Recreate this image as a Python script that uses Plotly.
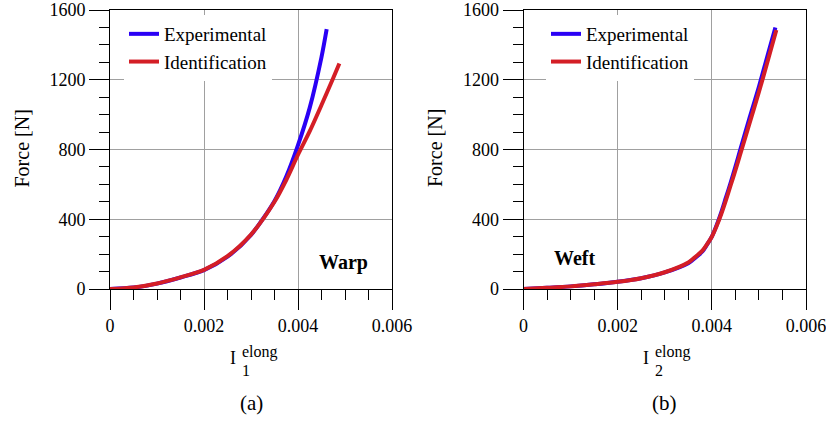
import plotly.graph_objects as go

# ---- data ----
warp_exp_x = [0, 0.0005, 0.001, 0.0015, 0.002, 0.0025, 0.003, 0.0035, 0.00375, 0.004, 0.00425, 0.0045, 0.00461]
warp_exp_f = [0, 8, 31, 66, 108, 185, 310, 505, 645, 825, 1040, 1330, 1490]
warp_id_x = [0, 0.0005, 0.001, 0.0015, 0.002, 0.0025, 0.003, 0.0035, 0.00375, 0.004, 0.00425, 0.0045, 0.00475, 0.00488]
warp_id_f = [0, 9, 32, 67, 110, 188, 312, 500, 625, 770, 905, 1055, 1210, 1293]

weft_exp_x = [0, 0.0005, 0.001, 0.0015, 0.002, 0.0025, 0.003, 0.0035, 0.0036, 0.0038, 0.0039, 0.004, 0.0041, 0.0042, 0.0043, 0.0044, 0.0045, 0.0046, 0.0048, 0.005, 0.0052, 0.00535]
weft_exp_f = [0, 7, 15, 27, 42, 62, 95, 148, 168, 215, 255, 300, 365, 440, 525, 610, 700, 795, 980, 1160, 1355, 1500]
weft_id_x = [0, 0.0005, 0.001, 0.0015, 0.002, 0.0025, 0.003, 0.0035, 0.0036, 0.0038, 0.0039, 0.004, 0.0041, 0.0042, 0.0043, 0.0044, 0.0045, 0.0046, 0.0048, 0.005, 0.0052, 0.00537]
weft_id_f = [0, 7, 15, 27, 41, 62, 96, 152, 173, 220, 257, 300, 360, 430, 510, 595, 680, 770, 950, 1130, 1320, 1485]

x_tickvals = [0, 0.002, 0.004, 0.006]
x_ticktext = ["0", "0.002", "0.004", "0.006"]
y_tickvals = [0, 400, 800, 1200, 1600]
series_names = ["Experimental", "Identification"]
panel_labels = ["(a)", "(b)"]
panel_tags = ["Warp", "Weft"]
subscripts = ["1", "2"]

BLUE = "#2a00f5"
RED = "#d41e26"
FONT = "Liberation Serif, Times New Roman, Times, serif"
W, H = 826, 423

def px(xp):
    return xp / W

def py(yp):
    return 1 - yp / H

fig = go.Figure()
fig.add_trace(go.Scatter(x=warp_exp_x, y=warp_exp_f, mode="lines", name=series_names[0],
                         line=dict(color=BLUE, width=4, shape="spline", smoothing=0.8), xaxis="x", yaxis="y", legend="legend"))
fig.add_trace(go.Scatter(x=warp_id_x, y=warp_id_f, mode="lines", name=series_names[1],
                         line=dict(color=RED, width=4, shape="spline", smoothing=0.8), xaxis="x", yaxis="y", legend="legend"))
fig.add_trace(go.Scatter(x=weft_exp_x, y=weft_exp_f, mode="lines", name=series_names[0],
                         line=dict(color=BLUE, width=4, shape="spline", smoothing=0.8), xaxis="x2", yaxis="y2", legend="legend2"))
fig.add_trace(go.Scatter(x=weft_id_x, y=weft_id_f, mode="lines", name=series_names[1],
                         line=dict(color=RED, width=4, shape="spline", smoothing=0.8), xaxis="x2", yaxis="y2", legend="legend2"))

def xaxis_cfg(dom, anchor):
    return dict(domain=dom, anchor=anchor, range=[0, 0.006], tickvals=x_tickvals, ticktext=x_ticktext,
                automargin=False, ticklabeloverflow="allow",
                showgrid=True, gridcolor="#a0a0a0", gridwidth=1, zeroline=False,
                showline=True, linecolor="black", linewidth=1, mirror=True,
                ticks="outside", ticklen=20, tickcolor="black", tickwidth=1,
                minor=dict(dtick=0.0005, ticks="outside", ticklen=10, tickcolor="black", showgrid=False),
                tickfont=dict(family=FONT, size=18, color="black"))

def yaxis_cfg(anchor):
    return dict(domain=[py(289), py(10)], anchor=anchor, range=[0, 1600], tickvals=y_tickvals,
                automargin=False, ticklabeloverflow="allow",
                showgrid=True, gridcolor="#a0a0a0", gridwidth=1, zeroline=False,
                showline=True, linecolor="black", linewidth=1, mirror=True,
                ticks="outside", ticklen=20, tickcolor="black", tickwidth=1,
                minor=dict(dtick=100, ticks="outside", ticklen=10, tickcolor="black", showgrid=False),
                tickfont=dict(family=FONT, size=18, color="black"))

def ann(text, xp, yp, size, xanchor="center", angle=0):
    return dict(text=text, x=px(xp), y=py(yp), xref="paper", yref="paper", xanchor=xanchor, yanchor="middle",
                textangle=angle, showarrow=False, font=dict(family=FONT, size=size, color="black"))

annotations = []
axis_left = [110, 523.5]
axis_right = [392, 806]
i_pos = [237.5, 650.5]
for i in range(2):
    cx = (axis_left[i] + axis_right[i]) / 2
    annotations.append(ann(panel_labels[i], cx, 403, 21))
    annotations.append(ann("Force [N]", axis_left[i] - 89, 148.5, 20, angle=-90))
    ix = i_pos[i]
    annotations.append(ann("I", ix, 357.5, 18, xanchor="right"))
    annotations.append(ann("elong", ix + 2, 352, 16, xanchor="left"))
    annotations.append(ann(subscripts[i], ix + 2.5, 370.5, 16, xanchor="left"))

annotations.append(ann("<b>" + panel_tags[0] + "</b>", 343, 262, 20))
annotations.append(ann("<b>" + panel_tags[1] + "</b>", 574.5, 258, 20))

legend_common = dict(bgcolor="white", borderwidth=0, xanchor="left", yanchor="top",
                     font=dict(family=FONT, size=19, color="black"), tracegroupgap=0)

fig.update_layout(
    width=W, height=H,
    margin=dict(l=0, r=0, t=0, b=0, autoexpand=False),
    paper_bgcolor="white", plot_bgcolor="white",
    xaxis=xaxis_cfg([px(110), px(392)], "y"),
    yaxis=yaxis_cfg("x"),
    xaxis2=xaxis_cfg([px(523.5), px(806)], "y2"),
    yaxis2=yaxis_cfg("x2"),
    legend=dict(x=px(124), y=py(15), **legend_common),
    legend2=dict(x=px(546), y=py(15), **legend_common),
    annotations=annotations,
    showlegend=True,
)

fig.write_html("out.html")
